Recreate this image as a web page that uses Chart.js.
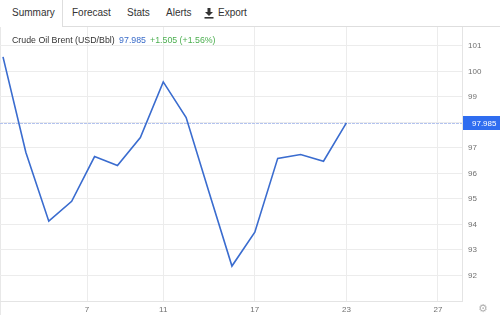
<!DOCTYPE html>
<html>
<head>
<meta charset="utf-8">
<script src="https://cdn.jsdelivr.net/npm/chart.js@4.4.1/dist/chart.umd.min.js"></script>
<style>
  html, body { margin: 0; padding: 0; background: #fff; }
  body { width: 500px; height: 315px; position: relative; overflow: hidden;
         font-family: "Liberation Sans", Arial, sans-serif; color: #333; }
  #tabs span { position: absolute; top: 7px; font-size: 10px; line-height: 12px; color: #333; white-space: nowrap; }
  #tabs svg { position: absolute; left: 204px; top: 8px; }
  .line { position: absolute; background: #dedede; }
  #header { position: absolute; left: 12px; top: 35px; font-size: 8.8px; line-height: 10px; white-space: nowrap; z-index: 2; }
  #header .price { color: #3a6cc9; margin-left: 2px; }
  #header .chg { color: #4caf50; margin-left: 4px; }
  #chartBox { position: absolute; left: 0; top: 27px; width: 500px; height: 288px; }
  #gear { position: absolute; left: 478px; top: 302px; font-size: 11px; color: #b0b0b0;
          font-family: "DejaVu Sans", sans-serif; }
</style>
</head>
<body>
<div id="tabs">
  <span style="left:12px">Summary</span>
  <span style="left:72px">Forecast</span>
  <span style="left:127px">Stats</span>
  <span style="left:166px">Alerts</span>
  <svg width="10" height="11" viewBox="0 0 10 11">
    <path d="M3.5 0 H6.5 V4 H9 L5 8 L1 4 H3.5 Z" fill="#333"/>
    <rect x="0.5" y="9" width="9" height="1.6" fill="#333"/>
  </svg>
  <span style="left:218px">Export</span>
</div>
<div class="line" style="left:62px; top:0; width:1px; height:27px"></div>
<div class="line" style="left:62px; top:26px; width:438px; height:1px"></div>
<div class="line" style="left:0; top:27px; width:1px; height:288px; background:#e8e8e8"></div>

<div id="header">Crude Oil Brent (USD/Bbl) <span class="price">97.985</span><span class="chg">+1.505 (+1.56%)</span></div>

<div id="chartBox"><canvas id="chart" width="500" height="288"></canvas></div>
<div id="gear">&#9881;</div>

<script>
// daily closes, index = trading day slot on the axis
const closes = [100.57, 96.82, 94.13, 94.91, 96.66, 96.31, 97.41, 99.59,
                98.19, 95.26, 92.37, 93.70, 96.59, 96.74, 96.48, 97.985]

// day-of-month labels and where they sit on the slot axis
const xTickLabels = ['7', '11', '17', '23', '27']
const xTickSlots = [3.67, 7, 11, 15, 19]

const yTicks = [91, 92, 93, 94, 95, 96, 97, 98, 99, 100, 101]
const lastPrice = 97.985

const lineColor = '#3a6ccf'
const gridColor = '#ececec'
const tickColor = '#707070'


const priceLine = {
    id: 'priceLine',
    beforeDatasetsDraw(chart) {
        const ctx = chart.ctx
        const area = chart.chartArea
        const y = Math.round(chart.scales.y.getPixelForValue(lastPrice)) + 0.5
        ctx.save()
        ctx.strokeStyle = '#b3c3ef'
        ctx.lineWidth = 1
        ctx.setLineDash([3, 1])
        ctx.beginPath()
        ctx.moveTo(area.left, y)
        ctx.lineTo(area.right, y)
        ctx.stroke()
        ctx.restore()
    },
    afterDraw(chart) {
        const ctx = chart.ctx
        const area = chart.chartArea
        const y = chart.scales.y.getPixelForValue(lastPrice)
        ctx.save()
        ctx.fillStyle = '#2f6df0'
        ctx.fillRect(area.right + 1, Math.round(y - 7), chart.width - area.right - 1, 14)
        ctx.fillStyle = '#fff'
        ctx.font = '8px "Liberation Sans", Arial, sans-serif'
        ctx.textBaseline = 'middle'
        ctx.fillText(lastPrice.toFixed(3), area.right + 10, y + 0.5)
        ctx.restore()
    }
}


function renderChart() {
    const points = closes.map((v, i) => ({ x: i, y: v }))

    new Chart(document.getElementById('chart'), {
        type: 'line',
        data: {
            datasets: [{
                data: points,
                borderColor: lineColor,
                borderWidth: 1.6,
                pointRadius: 0,
                tension: 0,
                fill: false
            }]
        },
        options: {
            responsive: false,
            animation: false,
            layout: { padding: 0 },
            plugins: { legend: { display: false }, tooltip: { enabled: false } },
            scales: {
                x: {
                    type: 'linear',
                    min: -0.131,
                    max: 20.05,
                    afterBuildTicks: (scale) => {
                        scale.ticks = xTickSlots.map(v => ({ value: v }))
                    },
                    afterFit: (scale) => {
                        scale.height = 14
                        scale.paddingLeft = 0
                        scale.paddingRight = 0
                    },
                    grid: { color: gridColor, drawTicks: false },
                    border: { color: '#e4e4e4' },
                    ticks: {
                        autoSkip: false,
                        maxRotation: 0,
                        padding: 4,
                        color: tickColor,
                        font: { size: 8, family: '"Liberation Sans", Arial, sans-serif' },
                        callback: (value, index) => xTickLabels[index]
                    }
                },
                y: {
                    position: 'right',
                    min: 91,
                    max: 101.74,
                    afterBuildTicks: (scale) => {
                        scale.ticks = yTicks.map(v => ({ value: v }))
                    },
                    afterFit: (scale) => {
                        scale.width = 38
                        scale.paddingTop = 0
                        scale.paddingBottom = 0
                    },
                    grid: { color: gridColor, drawTicks: false },
                    border: { color: '#e4e4e4' },
                    ticks: {
                        padding: 6,
                        color: tickColor,
                        font: { size: 8, family: '"Liberation Sans", Arial, sans-serif' },
                        callback: (value) => value === 91 ? '' : String(value)
                    }
                }
            }
        },
        plugins: [priceLine]
    })
}

renderChart()
</script>
</body>
</html>
